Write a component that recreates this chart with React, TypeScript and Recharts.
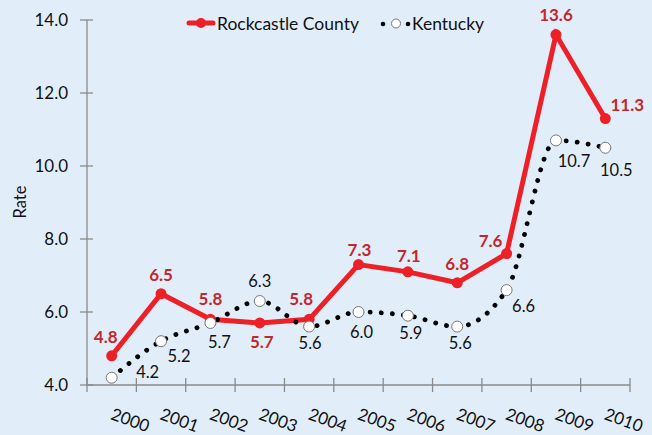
import { LineChart, Line, XAxis, YAxis, LabelList } from "recharts"

const years = ["2000", "2001", "2002", "2003", "2004", "2005", "2006", "2007", "2008", "2009", "2010"]
const rockcastle = [4.8, 6.5, 5.8, 5.7, 5.8, 7.3, 7.1, 6.8, 7.6, 13.6, 11.3]
const kentucky = [4.2, 5.2, 5.7, 6.3, 5.6, 6.0, 5.9, 5.6, 6.6, 10.7, 10.5]
const yTicks = [4, 6, 8, 10, 12, 14]

// label offsets (text centre relative to point), per year
const redLabelOffsets = [
  [-6, -19], [0, -19], [0, -20], [2, 19], [-8, -20], [1, -15],
  [1, -16], [0, -19], [-16, -13], [0, -20], [22, -14],
]
const kyLabelOffsets = [
  [36, -6], [18, 15], [9, 19], [0, -20], [1, 16], [3, 20],
  [3, 17], [3, 16], [17, 16], [18, 21], [11, 22],
]

const W = 652
const H = 435
const MARGIN = { top: 20, right: 22, left: 27, bottom: 0 }
const Y_AXIS_W = 60
const X_AXIS_H = 50
const PLOT_W = W - MARGIN.left - MARGIN.right - Y_AXIS_W
const BAND = PLOT_W / years.length

const BG = "#e1eef9"
const RED = "#ee2027"
const RED_TEXT = "#c4262e"
const AXIS = "#8a8a8a"
const FONT = "Lato, 'Open Sans', sans-serif"

const data = years.map((year, i) => ({
  year,
  rockcastle: rockcastle[i],
  kentucky: kentucky[i],
}))

const XTick = (props: any) => {
  const { x, y, payload, index } = props
  const left = x - BAND / 2
  const right = x + BAND / 2
  const tx = x - 2
  const ty = y + 34
  return (
    <g>
      <line x1={left} x2={left} y1={y - 7} y2={y + 7} stroke={AXIS} strokeWidth={1.3} />
      {index === years.length - 1 && (
        <line x1={right} x2={right} y1={y - 7} y2={y + 7} stroke={AXIS} strokeWidth={1.3} />
      )}
      <text
        x={tx}
        y={ty}
        transform={`rotate(20 ${tx} ${ty})`}
        textAnchor="start"
        fontSize={17}
        fontFamily={FONT}
        fill="#111"
      >
        {payload.value}
      </text>
    </g>
  )
}

const YTick = (props: any) => {
  const { x, y, payload } = props
  return (
    <g>
      <line x1={x - 7} x2={x + 6} y1={y} y2={y} stroke={AXIS} strokeWidth={1.3} />
      <text x={x - 19} y={y} dy={6} textAnchor="end" fontSize={17} fontFamily={FONT} fill="#111">
        {Number(payload.value).toFixed(1)}
      </text>
    </g>
  )
}

const makeLabel = (offsets: number[][], color: string, bold: boolean) => (props: any) => {
  const { x, y, value, index } = props
  const [dx, dy] = offsets[index] || [0, -18]
  return (
    <text
      x={x + dx}
      y={y + dy}
      dy={6}
      textAnchor="middle"
      fontSize={bold ? 17 : 16.5}
      fontWeight={bold ? 700 : 400}
      fontFamily={FONT}
      fill={color}
    >
      {Number(value).toFixed(1)}
    </text>
  )
}

const KyDot = (props: any) => {
  const { cx, cy, index } = props
  return <circle key={`ky-${index}`} cx={cx} cy={cy} r={5.5} fill="#fff" stroke="#777" strokeWidth={1} />
}

export default function App() {
  return (
    <div style={{ position: "absolute", left: 0, top: 0, width: W, height: H, background: BG }}>
      <LineChart width={W} height={H} data={data} margin={MARGIN}>
        <XAxis
          dataKey="year"
          height={X_AXIS_H}
          padding={{ left: BAND / 2, right: BAND / 2 }}
          axisLine={{ stroke: AXIS, strokeWidth: 1.3 }}
          tickLine={false}
          tickSize={0}
          tickMargin={0}
          tick={<XTick />}
          interval={0}
        />
        <YAxis
          width={Y_AXIS_W}
          domain={[4, 14]}
          ticks={yTicks}
          axisLine={{ stroke: AXIS, strokeWidth: 1.3 }}
          tickLine={false}
          tickSize={0}
          tickMargin={0}
          tick={<YTick />}
        />
        <Line
          dataKey="rockcastle"
          type="linear"
          stroke={RED}
          strokeWidth={5}
          dot={{ r: 5.5, fill: RED, stroke: RED, strokeWidth: 0 }}
          isAnimationActive={false}
        >
          <LabelList dataKey="rockcastle" content={makeLabel(redLabelOffsets, RED_TEXT, true)} />
        </Line>
        <Line
          dataKey="kentucky"
          type="monotone"
          stroke="#000"
          strokeWidth={4.8}
          strokeDasharray="0.1 11"
          strokeLinecap="round"
          dot={<KyDot />}
          isAnimationActive={false}
        >
          <LabelList dataKey="kentucky" content={makeLabel(kyLabelOffsets, "#111", false)} />
        </Line>
      </LineChart>
      <svg
        width={W}
        height={H}
        style={{ position: "absolute", left: 0, top: 0, pointerEvents: "none" }}
      >
        <text
          x={20}
          y={202}
          transform="rotate(-90 20 202)"
          textAnchor="middle"
          dy={5.5}
          fontSize={16.5}
          fontFamily={FONT}
          fill="#111"
        >
          Rate
        </text>
        <line x1={189} x2={213} y1={23} y2={23} stroke={RED} strokeWidth={5} strokeLinecap="round" />
        <circle cx={201} cy={23} r={5} fill={RED} />
        <text x={217} y={23} dy={6.5} fontSize={17.5} fontFamily={FONT} fill="#111">
          Rockcastle County
        </text>
        <circle cx={383} cy={24} r={2.3} fill="#000" />
        <circle cx={396} cy={23.5} r={4.5} fill="#fff" stroke="#777" strokeWidth={1} />
        <circle cx={408} cy={24} r={2.3} fill="#000" />
        <text x={412} y={23} dy={6.5} fontSize={17.5} fontFamily={FONT} fill="#111">
          Kentucky
        </text>
      </svg>
    </div>
  )
}
